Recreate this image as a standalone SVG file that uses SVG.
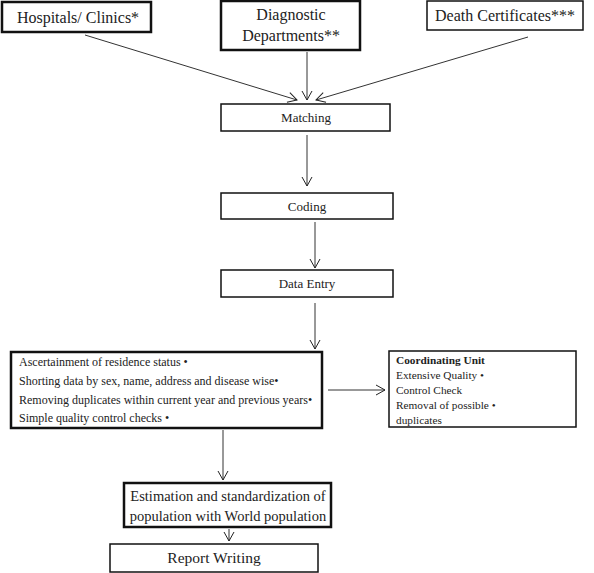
<svg xmlns="http://www.w3.org/2000/svg" width="594" height="573" viewBox="0 0 594 573">
<defs>
<marker id="ah" markerWidth="12" markerHeight="12" refX="10" refY="6" orient="auto" markerUnits="userSpaceOnUse">
<path d="M1,1 L10,6 L1,11" fill="none" stroke="#222" stroke-width="1"/>
</marker>
<style>
.box{fill:#fff;stroke:#111;stroke-width:1.5}
.thick{fill:#fff;stroke:#111;stroke-width:2.5}
text{font-family:'Liberation Serif','DejaVu Serif',serif;fill:#222}
.c{text-anchor:middle}
.e{stroke:#333;stroke-width:1;fill:none;marker-end:url(#ah)}
</style>
</defs>
<rect width="594" height="573" fill="#fff"/>
<g id="connectors">
<line class="e" x1="85" y1="35" x2="297" y2="100"/>
<line class="e" x1="307" y1="52" x2="307" y2="100"/>
<line class="e" x1="528" y1="37" x2="316" y2="100"/>
<line class="e" x1="307" y1="135" x2="307" y2="186"/>
<line class="e" x1="315" y1="222" x2="315" y2="268"/>
<line class="e" x1="315" y1="303" x2="315" y2="349"/>
<line class="e" x1="328" y1="390" x2="385" y2="390"/>
<line class="e" x1="223" y1="430" x2="223" y2="480"/>
<line class="e" x1="229" y1="529" x2="229" y2="541"/>
</g>
<g id="hospitals">
<rect class="thick" x="2" y="2" width="149" height="30"/>
<text class="c" x="78" y="23" font-size="16">Hospitals/ Clinics*</text>
</g>
<g id="diagnostic">
<rect class="thick" x="221" y="1" width="139" height="49"/>
<text class="c" x="291" y="20" font-size="16">Diagnostic</text>
<text class="c" x="291" y="41" font-size="16">Departments**</text>
</g>
<g id="death">
<rect class="box" x="427" y="1" width="156" height="29"/>
<text class="c" x="505" y="21" font-size="16">Death Certificates***</text>
</g>
<g id="matching">
<rect class="box" x="221" y="104" width="169" height="27"/>
<text class="c" x="306" y="122" font-size="13">Matching</text>
</g>
<g id="coding">
<rect class="box" x="221" y="193" width="172" height="26"/>
<text class="c" x="307" y="211" font-size="13">Coding</text>
</g>
<g id="dataentry">
<rect class="box" x="221" y="270" width="172" height="27"/>
<text class="c" x="307" y="288" font-size="13">Data Entry</text>
</g>
<g id="processing">
<rect class="thick" x="11" y="352" width="311" height="76"/>
<text x="19" y="366" font-size="12">Ascertainment of residence status •</text>
<text x="19" y="385" font-size="12">Shorting data by sex, name, address and disease wise•</text>
<text x="19" y="404" font-size="12">Removing duplicates within current year and previous years•</text>
<text x="19" y="422" font-size="12">Simple quality control checks •</text>
</g>
<g id="coordinating">
<rect class="box" x="389" y="351" width="187" height="76"/>
<text x="396" y="364" font-size="11.3" font-weight="bold">Coordinating Unit</text>
<text x="396" y="379" font-size="11.3">Extensive Quality •</text>
<text x="396" y="394" font-size="11.3">Control Check</text>
<text x="396" y="409" font-size="11.3">Removal of possible •</text>
<text x="396" y="424" font-size="11.3">duplicates</text>
</g>
<g id="estimation">
<rect class="thick" x="124" y="483" width="207" height="44"/>
<text class="c" x="228" y="501" font-size="14.5">Estimation and standardization of</text>
<text class="c" x="228" y="521" font-size="14.5">population with World population</text>
</g>
<g id="report">
<rect class="box" x="110" y="544" width="208" height="28"/>
<text class="c" x="214" y="563" font-size="15.5">Report Writing</text>
</g>
</svg>
